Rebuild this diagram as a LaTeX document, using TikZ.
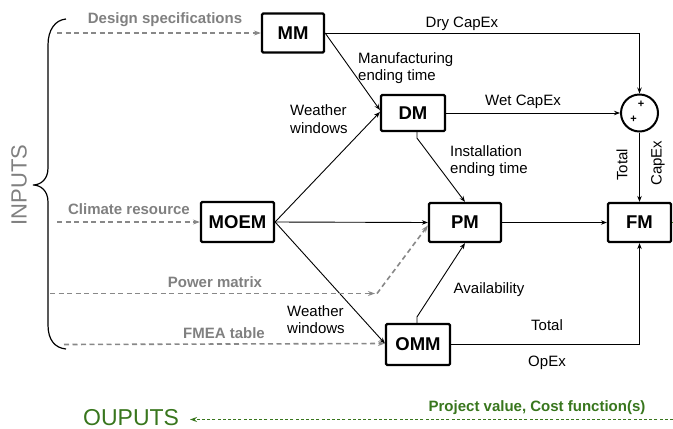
\documentclass[tikz,border=0pt]{standalone}
\usepackage{fontspec}
\setmainfont{Liberation Sans}
\usetikzlibrary{arrows.meta}
\definecolor{grayt}{RGB}{128,128,128}
\definecolor{grayl}{RGB}{136,136,136}
\definecolor{dgreen}{RGB}{56,118,29}
\begin{document}
\begin{tikzpicture}[x=1pt,y=-1pt,
  box/.style={draw, line width=2.2pt, rounded corners=1.2pt, inner sep=0pt, font=\fontsize{18.5}{20}\selectfont\bfseries},
  lbl/.style={font=\fontsize{15}{17.5}\selectfont, inner sep=0pt, align=left},
  inlbl/.style={font=\fontsize{15}{17}\selectfont\bfseries, text=grayt, inner sep=0pt},
  conn/.style={line width=0.9pt, -{Stealth[length=6pt,width=4.5pt]}},
  inarrow/.style={grayl, line width=1.6pt, dash pattern=on 5pt off 3.5pt, -{Stealth[length=7pt,width=5pt]}},
  outarrow/.style={dgreen, line width=1.7pt, dash pattern=on 3pt off 2.2pt, -{Stealth[length=7pt,width=5pt]}}
]
\useasboundingbox (0,0) rectangle (673,429);

% boxes
\node[box, minimum width=62pt, minimum height=39pt] (MM) at (293,33) {MM};
\node[box, minimum width=64pt, minimum height=36pt] (DM) at (413,113) {DM};
\node[box, minimum width=73pt, minimum height=40pt] (MOEM) at (237.5,222) {MOEM};
\node[box, minimum width=72pt, minimum height=39pt] (PM) at (465,222.5) {PM};
\node[box, minimum width=63pt, minimum height=39pt] (FM) at (639.5,222.5) {FM};
\node[box, minimum width=64pt, minimum height=41pt] (OMM) at (418,344.5) {OMM};
\node[draw, circle, line width=2pt, minimum size=37pt, inner sep=0pt] (SUM) at (639.5,113) {};
\node[font=\fontsize{11}{12}\selectfont\bfseries, inner sep=0pt] (p1) at (641,104.5) {+};
\node[font=\fontsize{11}{12}\selectfont\bfseries, inner sep=0pt] (p2) at (633.5,119) {+};

% connectors
\draw[conn] (MM.east) -- (SUM.north |- MM.east) -- (SUM.north);
\draw[conn] (MM.east) -- ([yshift=3pt]DM.west);
\draw[conn] (MOEM.east) -- ([yshift=1pt]DM.west);
\draw[conn] (DM.east) -- (SUM.west);
\coordinate (dmb) at ([xshift=4pt,yshift=-6pt]DM.south);
\draw[conn] ([xshift=4pt]DM.south) -- (dmb) -- (PM.north);
\draw[conn] (SUM.south) -- (FM.north);
\draw[conn] (MOEM.east) -- (PM.west);
\draw[conn] (PM.east) -- (FM.west);
\draw[conn] (MOEM.east) -- ([yshift=1pt]OMM.west);
\coordinate (omt) at ([xshift=-1pt,yshift=6pt]OMM.north);
\draw[conn] ([xshift=-1pt]OMM.north) -- (omt) -- (PM.south);
\draw[conn] (OMM.east) -- (FM.south |- OMM.east) -- (FM.south);

% connector labels
\node[lbl, anchor=south] (ldry) at (462,31) {Dry CapEx};
\node[lbl, anchor=west] (lman) at (358,68) {Manufacturing\\ending time};
\node[lbl, anchor=west] (lww1) at (290,119) {Weather\\windows};
\node[lbl] (lwet) at (523,102) {Wet CapEx};
\node[lbl, anchor=west] (linst) at (450,161) {Installation\\ending time};
\node[lbl, rotate=90] (ltot1) at (622,165) {Total};
\node[lbl, rotate=90] (lcap) at (658,163) {CapEx};
\node[lbl, anchor=west] (lww2) at (287,319.5) {Weather\\windows};
\node[lbl] (lavail) at (489,290) {Availability};
\node[lbl] (ltot2) at (547,325) {Total};
\node[lbl] (lopex) at (547,363) {OpEx};

% inputs
\draw[line width=1.2pt] (66,19) .. controls (55,20) and (48,30) .. (48,45) -- (48,168)
  .. controls (48,180) and (40,185) .. (33,185)
  .. controls (40,185) and (48,190) .. (48,202) -- (48,325)
  .. controls (48,340) and (55,348) .. (66,349);
\node[font=\fontsize{22}{24}\selectfont, text=grayt, rotate=90, inner sep=0pt] (inputs) at (19,185) {INPUTS};

\coordinate (ds0) at (57,33);
\draw[inarrow] (ds0) -- (MM.west);
\node[inlbl] (lds) at (165,20) {Design specifications};
\coordinate (cr0) at (57,222);
\draw[inarrow] (cr0) -- (MOEM.west);
\node[inlbl] (lcr) at (129,209) {Climate resource};
\coordinate (pm0) at (50,293.5);
\coordinate (pm1) at (375,293.5);
\coordinate (pm2) at (377,293.5);
\draw[inarrow] (pm0) -- (pm1);
\draw[inarrow] (pm2) -- ([yshift=-3pt]PM.west);
\node[inlbl] (lpm) at (215,282) {Power matrix};
\coordinate (fm0) at (64,344.5);
\draw[inarrow] (fm0) -- ([yshift=1pt]OMM.west);
\node[inlbl] (lfmea) at (224,333) {FMEA table};

% outputs
\draw[dgreen, line width=1.5pt] (FM.east) -- (673,222.5);
\coordinate (out0) at (673,419.5);
\coordinate (out1) at (190,419.5);
\draw[outarrow] (out0) -- (out1);
\node[font=\fontsize{15}{17}\selectfont\bfseries, text=dgreen, inner sep=0pt] (lproj) at (537,408) {Project value, Cost function(s)};
\node[font=\fontsize{23}{25}\selectfont, text=dgreen, anchor=base west, inner sep=0pt] (outputs) at (83,425) {OUPUTS};
\end{tikzpicture}
\end{document}
